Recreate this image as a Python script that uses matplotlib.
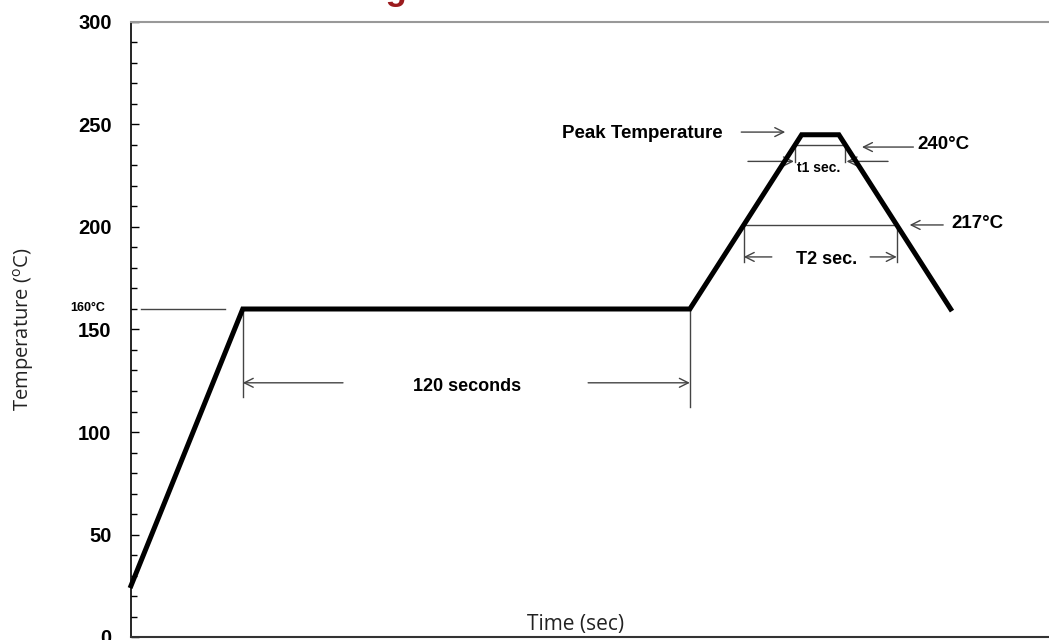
import matplotlib
matplotlib.use("Agg")
import matplotlib.pyplot as plt

plt.rcParams['font.family'] = ['Liberation Sans', 'DejaVu Sans']
plt.rcParams['mathtext.fontset'] = 'custom'
plt.rcParams['mathtext.rm'] = 'Open Sans'

# reflow profile (time in s, temperature in degC)
time_s = [0, 30, 150, 180, 190, 220]
temp_c = [25, 160, 160, 245, 245, 160]

y_ticks = [0, 50, 100, 150, 200, 250, 300]

# annotation levels
t_flat_start, t_flat_end = 30, 150
level_160 = 160
level_240 = 240
level_217 = 201   # where the 217 line sits in the drawing

fig = plt.figure(figsize=(10.49, 6.40), dpi=100)
ax = fig.add_axes([131 / 1049, 3 / 640, 918 / 1049, 615 / 640])

ax.plot(time_s, temp_c, color='black', lw=3.6, solid_joinstyle='miter', clip_on=False, zorder=5)

ax.set_xlim(0, 246.4)
ax.set_ylim(0, 300)
ax.set_yticks(y_ticks)
ax.set_yticks(range(0, 301, 10), minor=True)
ax.set_xticks([])
ax.tick_params(axis='y', which='major', direction='in', length=6, width=1, labelsize=14.5, pad=14)
ax.tick_params(axis='y', which='minor', direction='in', length=4, width=1)
for lab in ax.get_yticklabels():
    lab.set_fontweight('bold')
ax.spines['right'].set_visible(False)
ax.spines['top'].set_color('#999999')
ax.spines['top'].set_linewidth(1.5)
ax.spines['left'].set_linewidth(1.2)
ax.spines['bottom'].set_color('#333333')
ax.spines['bottom'].set_linewidth(1.5)

ax.set_ylabel(r'Temperature ($^{\mathrm{o}}$C)', fontfamily='Open Sans', fontsize=14.5, color='#222222')
ax.yaxis.set_label_coords(-0.1035, 0.5)
ax.text(0.484, 0.021, 'Time (sec)', transform=ax.transAxes, ha='center', va='center',
        fontfamily='Open Sans', fontsize=15, color='#222222')

thin = dict(color='#444444', lw=1)
arr = dict(arrowstyle='->', color='#444444', lw=1, mutation_scale=16, shrinkA=0, shrinkB=0)


def arrow(x0, x1, y):
    ax.annotate('', xy=(x1, y), xytext=(x0, y), arrowprops=arr, annotation_clip=False)


bold = dict(fontweight='bold', va='center')

# 160 C marker
ax.plot([2.7, 25.2], [level_160, level_160], **thin)
ax.text(-11.5, level_160 + 0.5, '160°C', ha='center', fontsize=9, clip_on=False, **bold)

# 120 seconds
ax.plot([t_flat_start, t_flat_start], [level_160, 117], **thin)
ax.plot([t_flat_end, t_flat_end], [level_160, 112], **thin)
arrow(56.9, t_flat_start, 124)
arrow(122.7, t_flat_end, 124)
ax.text(90.1, 122, '120 seconds', ha='center', fontsize=13, **bold)

# peak temperature
ax.text(158.9, 245.5, 'Peak Temperature', ha='right', fontsize=13.5, **bold)
arrow(163.8, 175.6, 246.3)

# 240 C / t1
t240_up = 150 + 30 * (level_240 - 160) / 85
t240_dn = 190 + 30 * (245 - level_240) / 85
ax.plot([t240_up, t240_dn], [level_240, level_240], **thin)
ax.plot([t240_up, t240_up], [level_240, 231.5], **thin)
ax.plot([t240_dn, t240_dn], [level_240, 231.5], **thin)
arrow(165.6, t240_up - 0.3, 232)
arrow(203.2, t240_dn + 0.3, 232)
ax.text(184.6, 229, 't1 sec.', ha='center', fontsize=10, **bold)
ax.text(211.2, 240, '240°C', ha='left', fontsize=13.5, **bold)
arrow(210, 196.2, 239)

# 217 C / T2
t217_up = 150 + 30 * (level_217 - 160) / 85
t217_dn = 190 + 30 * (245 - level_217) / 85
ax.plot([t217_up, t217_dn], [level_217, level_217], **thin)
ax.plot([t217_up, t217_up], [level_217, 183], **thin)
ax.plot([t217_dn, t217_dn], [level_217, 183], **thin)
arrow(172, t217_up, 185.4)
arrow(198.4, t217_dn, 185.4)
ax.text(186.6, 184, 'T2 sec.', ha='center', fontsize=13, **bold)
ax.text(220.2, 201.5, '217°C', ha='left', fontsize=13.5, **bold)
arrow(218, 209, 201)

# title cut off at the top edge
fig.text(407 / 1049, 1.0, 'Reflow Soldering', ha='right', va='baseline',
         fontsize=25, fontweight='bold', color='#9b1b1e')

fig.savefig('out.png', dpi=100)
